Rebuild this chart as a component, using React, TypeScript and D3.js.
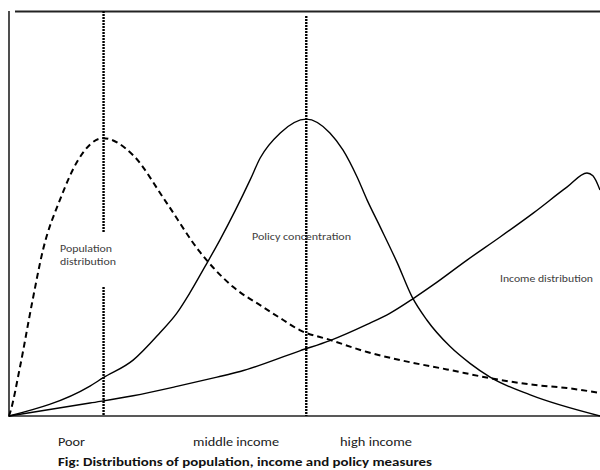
import React from "react";
import * as d3 from "d3";

// x: position along income scale (0-100), y: relative density (0-100)
const populationX = [0, 0.17, 1.86, 3.9, 5.75, 8.6, 11.7, 15.9, 21.0, 26.5, 32.3, 37.9, 43.0, 46.4, 49.2, 54.3, 60.6, 66.2, 74.1, 83.1, 88.7, 94.4, 100];
const populationY = [0, 0.74, 12.1, 27.9, 41.0, 53.3, 63.2, 68.6, 64.4, 53.0, 40.5, 31.9, 26.9, 23.7, 21.2, 18.8, 15.8, 13.8, 11.5, 8.9, 7.7, 6.9, 5.7];

const policyX = [0, 13.7, 15.9, 21.0, 25.5, 28.4, 30.6, 33.2, 35.7, 40.8, 42.5, 45.9, 50.3, 54.3, 56.5, 58.9, 60.6, 62.8, 65.7, 68.2, 70.7, 74.6, 78.0, 81.4, 88.2, 100];
const policyY = [0, 7.4, 9.4, 13.8, 20.5, 25.4, 30.4, 37.0, 43.5, 58.3, 63.7, 69.9, 73.3, 69.9, 65.7, 59.0, 53.3, 46.7, 37.8, 29.4, 23.7, 17.2, 13.0, 9.6, 5.2, 0];

const incomeX = [0, 13.7, 21.0, 28.4, 35.2, 39.1, 49.2, 54.3, 60.6, 64.5, 68.4, 71.7, 77.5, 83.1, 88.7, 94.4, 97.8, 98.8, 100];
const incomeY = [0, 3.2, 5.0, 7.3, 9.6, 11.0, 16.1, 18.6, 22.6, 25.4, 29.0, 32.3, 38.5, 44.2, 50.1, 56.5, 60.0, 59.3, 55.8];

const markerX = [16.0, 50.3];

const curveLabels = ["Population", "distribution", "Policy concentration", "Income distribution"];
const axisLabels = ["Poor", "middle income", "high income"];
const caption = "Fig: Distributions of population, income and policy measures";

export default function App() {
  const W = 600, H = 470;
  const x = d3.scaleLinear().domain([0, 100]).range([9, 600]);
  const y = d3.scaleLinear().domain([0, 100]).range([416, 11]);

  const line = d3
    .line<[number, number]>()
    .x((d) => x(d[0]))
    .y((d) => y(d[1]))
    .curve(d3.curveMonotoneX);

  const zip = (a: number[], b: number[]) => a.map((v, i) => [v, b[i]] as [number, number]);

  const font = "Calibri, Carlito, 'Open Sans', 'Liberation Sans', sans-serif";
  const gray = "#404040";

  return (
    <svg width={W} height={H} style={{ position: "absolute", left: 0, top: 0, display: "block", background: "#fff" }}>
      {/* frame */}
      <line x1={9} y1={11} x2={9} y2={417} stroke="#222" strokeWidth={1.6} />
      <line x1={15} y1={11.5} x2={600} y2={11.5} stroke="#222" strokeWidth={2} />
      <line x1={9} y1={416} x2={600} y2={416} stroke="#222" strokeWidth={1.6} />

      {/* marker verticals */}
      <line x1={x(markerX[0])} y1={11} x2={x(markerX[0])} y2={233} stroke="#000" strokeWidth={2.4} strokeDasharray="2,1" />
      <line x1={x(markerX[0])} y1={287} x2={x(markerX[0])} y2={416} stroke="#000" strokeWidth={2.4} strokeDasharray="2,1" />
      <line x1={x(markerX[1])} y1={16} x2={x(markerX[1])} y2={416} stroke="#000" strokeWidth={2.4} strokeDasharray="2,1" />

      {/* curves */}
      <path d={line(zip(populationX, populationY)) || ""} fill="none" stroke="#000" strokeWidth={2} strokeDasharray="6,4" />
      <path d={line(zip(policyX, policyY)) || ""} fill="none" stroke="#000" strokeWidth={1.4} />
      <path d={line(zip(incomeX, incomeY)) || ""} fill="none" stroke="#000" strokeWidth={1.4} />

      {/* curve labels */}
      <g fontFamily={font} fontSize={10.5} fill={gray}>
        <text x={60} y={252} textLength={52} lengthAdjust="spacingAndGlyphs">{curveLabels[0]}</text>
        <text x={60} y={265} textLength={56} lengthAdjust="spacingAndGlyphs">{curveLabels[1]}</text>
        <text x={252} y={240} textLength={99} lengthAdjust="spacingAndGlyphs">{curveLabels[2]}</text>
        <text x={500} y={282} textLength={93} lengthAdjust="spacingAndGlyphs">{curveLabels[3]}</text>
      </g>

      {/* axis labels */}
      <g fontFamily={font} fontSize={12.5} fill="#222">
        <text x={58} y={446} textLength={27} lengthAdjust="spacingAndGlyphs">{axisLabels[0]}</text>
        <text x={193} y={446} textLength={86} lengthAdjust="spacingAndGlyphs">{axisLabels[1]}</text>
        <text x={340} y={446} textLength={72} lengthAdjust="spacingAndGlyphs">{axisLabels[2]}</text>
      </g>
      <text x={58} y={466} fontFamily={font} fontSize={11} fontWeight="bold" fill="#111" textLength={374} lengthAdjust="spacingAndGlyphs">
        {caption}
      </text>
    </svg>
  );
}
